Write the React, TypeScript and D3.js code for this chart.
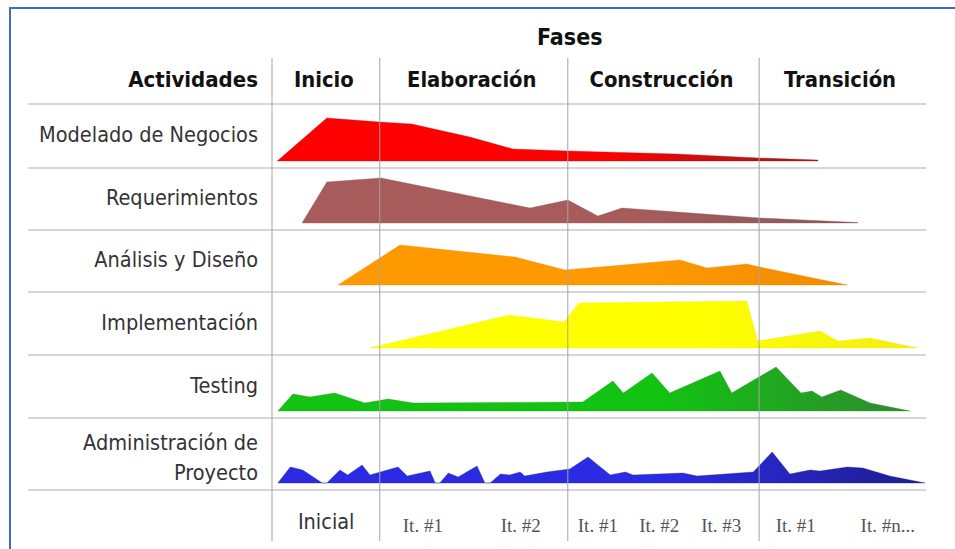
import React, { useEffect, useRef } from 'react';
import * as d3 from 'd3';

// fases del proceso (limites en % del tiempo del proyecto)
const phases = ['Inicio', 'Elaboración', 'Construcción', 'Transición'];
const phaseBounds = [0, 16.5, 45.3, 74.6, 100];

const activities = [
  'Modelado de Negocios',
  'Requerimientos',
  'Análisis y Diseño',
  'Implementación',
  'Testing',
  'Administración de|Proyecto',
];

const iterations = ['Inicial', 'It. #1', 'It. #2', 'It. #1', 'It. #2', 'It. #3', 'It. #1', 'It. #n...'];
const iterationPos = [8.3, 23.1, 38.1, 49.9, 59.3, 68.8, 80.2, 94.3];

// [tiempo %, esfuerzo]
const modelado = [[0.8, 0], [8.4, 43], [16.5, 39], [21.4, 37], [30.3, 24], [36.9, 12], [45.3, 10], [62.0, 7], [74.6, 3], [83.6, 1], [83.6, 0]];
const requerimientos = [[4.6, 0], [8.4, 41], [16.7, 45], [39.5, 15], [45.3, 23], [49.9, 7], [53.6, 15], [74.7, 5], [89.7, 0.5], [89.7, 0]];
const analisis = [[10.1, 0], [19.6, 40], [37.2, 28], [44.9, 15], [62.5, 25], [66.6, 17], [72.7, 21], [74.7, 18], [88.1, 0]];
const implementacion = [[15.0, 0], [36.3, 33], [44.7, 26], [47.0, 45], [72.7, 47], [74.4, 7], [83.9, 17], [86.7, 7], [91.6, 10], [98.9, 0]];
const testing = [[0.9, 0], [3.2, 17], [5.8, 14], [9.6, 18], [14.2, 8], [17.8, 12], [21.6, 8], [47.6, 9], [52.2, 30], [53.8, 18], [58.2, 38], [60.9, 18], [68.6, 40], [70.4, 18], [77.2, 44], [81.0, 18], [82.7, 20], [84.2, 14], [87.1, 21], [91.6, 8], [97.7, 0]];
const administracion = [[0.9, 0], [2.8, 16], [4.7, 13], [7.7, 0], [8.4, 0], [10.4, 13], [11.6, 8], [13.8, 18], [15.0, 8], [19.3, 16], [20.7, 7], [24.2, 12], [25.0, 0], [25.7, 0], [27.0, 10], [28.5, 6], [31.4, 17], [32.6, 0], [33.4, 0], [35.0, 9], [36.4, 8], [38.0, 11], [38.7, 7], [42.1, 11], [45.6, 14], [48.4, 26], [51.8, 8], [54.1, 11], [55.3, 8], [62.9, 10], [65.1, 7], [73.7, 11], [76.6, 31], [79.3, 9], [82.4, 13], [83.9, 12], [88.1, 16], [90.5, 15], [94.6, 7], [100, 0]];

const series = [modelado, requerimientos, analisis, implementacion, testing, administracion];
const colors = ['#ff0000', '#a75b5b', '#ff9900', '#ffff00', '#12c312', '#2b2be3'];
const darkColors = ['#9a1c1c', '#8a5a5a', '#f08a00', '#f2ee10', '#2f8a2f', '#1e1e90'];

export default function App() {
  const ref = useRef<SVGSVGElement>(null);

  useEffect(() => {
    const W = 955, H = 549;
    const svg = d3.select(ref.current);
    svg.selectAll('*').remove();
    svg.attr('width', W).attr('height', H);

    const font = "'DejaVu Sans Condensed', 'DejaVu Sans', sans-serif";

    svg.append('rect').attr('width', W).attr('height', H).attr('fill', '#fff');

    // marco azul
    svg.append('rect')
      .attr('x', 10).attr('y', 8)
      .attr('width', W).attr('height', H)
      .attr('fill', 'none')
      .attr('stroke', '#3f6cc2')
      .attr('stroke-width', 2);

    // SCALES
    const x = d3.scaleLinear().domain([0, 100]).range([272, 925]);
    const rowY = d3.scaleLinear().domain([0, 1, 2, 3, 4, 5, 6]).range([104, 168, 230, 292, 355, 418, 490]);
    const h = d3.scaleLinear().domain([0, 50]).range([0, 50]);

    const defs = svg.append('defs');

    // gridlines horizontales
    svg.append('g').selectAll('line')
      .data(d3.range(7))
      .enter().append('line')
      .attr('x1', 28).attr('x2', 926)
      .attr('y1', d => rowY(d)).attr('y2', d => rowY(d))
      .attr('stroke', '#c9c9c9')
      .attr('stroke-width', 1.5);

    // areas
    series.forEach((data, i) => {
      const base = rowY(i + 1) - 7;
      const grad = defs.append('linearGradient')
        .attr('id', 'g' + i)
        .attr('x1', '0%').attr('x2', '100%').attr('y1', '0%').attr('y2', '0%');
      grad.append('stop').attr('offset', '0%').attr('stop-color', colors[i]);
      grad.append('stop').attr('offset', '60%').attr('stop-color', colors[i]);
      grad.append('stop').attr('offset', '100%').attr('stop-color', darkColors[i]);

      const area = d3.area<number[]>()
        .x(d => x(d[0]))
        .y0(base)
        .y1(d => base - h(d[1]));

      svg.append('path')
        .datum(data)
        .attr('d', area)
        .attr('fill', `url(#g${i})`)
        .attr('stroke', darkColors[i])
        .attr('stroke-opacity', 0.35)
        .attr('stroke-width', 1);
    });

    // lineas de fase verticales
    svg.append('g').selectAll('line')
      .data(phaseBounds.slice(0, 4))
      .enter().append('line')
      .attr('x1', d => x(d)).attr('x2', d => x(d))
      .attr('y1', 58).attr('y2', 541)
      .attr('stroke', '#a3a3a3')
      .attr('stroke-width', 1);

    // encabezados
    svg.append('text')
      .attr('x', x(45.3) + 2).attr('y', 45)
      .attr('text-anchor', 'middle')
      .attr('font-family', font).attr('font-weight', 'bold').attr('font-size', 23)
      .attr('fill', '#111')
      .text('Fases');

    svg.append('text')
      .attr('x', 258).attr('y', 87)
      .attr('text-anchor', 'end')
      .attr('font-family', font).attr('font-weight', 'bold').attr('font-size', 22)
      .attr('fill', '#111')
      .text('Actividades');

    svg.append('g').selectAll('text')
      .data(phases)
      .enter().append('text')
      .attr('x', (d, i) => (x(phaseBounds[i]) + x(phaseBounds[i + 1])) / 2 - 2)
      .attr('y', 87)
      .attr('text-anchor', 'middle')
      .attr('font-family', font).attr('font-weight', 'bold').attr('font-size', 21.8)
      .attr('fill', '#111')
      .text(d => d);

    // etiquetas de actividades
    activities.forEach((label, i) => {
      const lines = label.split('|');
      const center = (rowY(i) + rowY(i + 1)) / 2;
      lines.forEach((ln, j) => {
        const y = lines.length > 1
          ? rowY(i + 1) - 10 - (lines.length - 1 - j) * 30
          : center + 6;
        svg.append('text')
          .attr('x', 258).attr('y', y)
          .attr('text-anchor', 'end')
          .attr('font-family', font).attr('font-size', 21.5)
          .attr('fill', '#333')
          .text(ln);
      });
    });

    // iteraciones
    svg.append('g').selectAll('text')
      .data(iterations)
      .enter().append('text')
      .attr('x', (d, i) => x(iterationPos[i]))
      .attr('y', (d, i) => (i === 0 ? 529 : 532))
      .attr('text-anchor', 'middle')
      .attr('font-family', (d, i) => (i === 0 ? font : "'Liberation Serif', 'DejaVu Serif', serif"))
      .attr('font-size', (d, i) => (i === 0 ? 21.5 : 19))
      .attr('fill', (d, i) => (i === 0 ? '#333' : '#555'))
      .text(d => d);
  }, []);

  return (
    <svg ref={ref} style={{ position: 'absolute', left: 0, top: 0, display: 'block' }} />
  );
}
